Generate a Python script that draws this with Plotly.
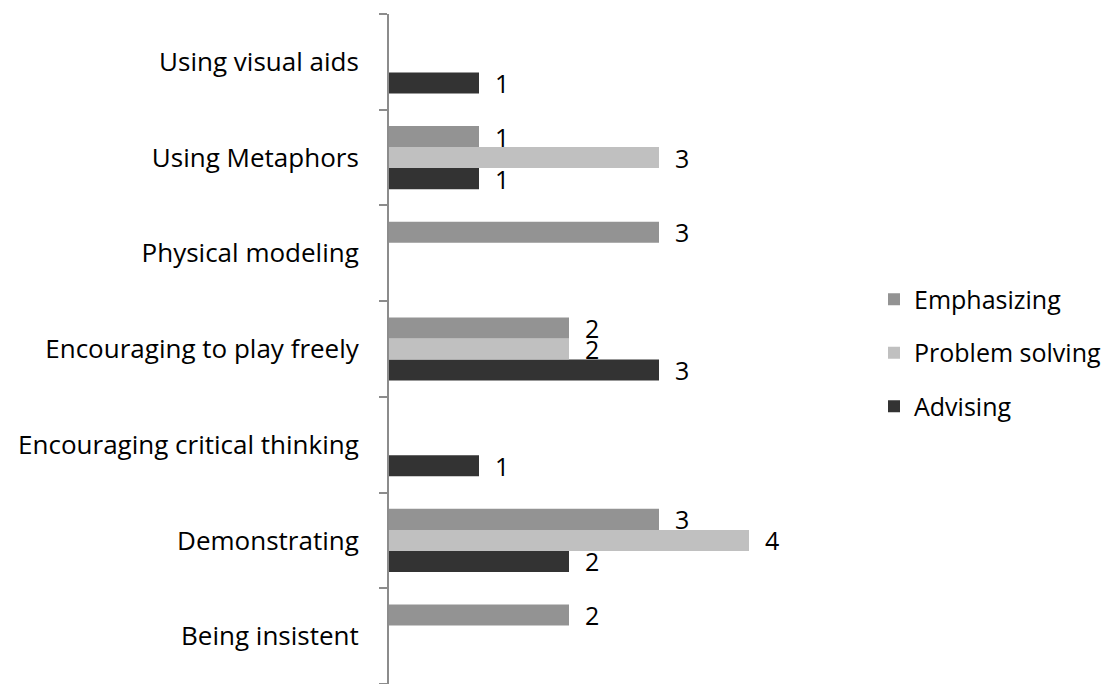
import plotly.graph_objects as go

categories = ["Being insistent", "Demonstrating", "Encouraging critical thinking",
              "Encouraging to play freely", "Physical modeling", "Using Metaphors",
              "Using visual aids"]
emphasizing = [2, 3, None, 2, 3, 1, None]
problem_solving = [None, 4, None, 2, None, 3, None]
advising = [None, 2, 1, 3, None, 1, 1]

FONT = "Open Sans"
FS = 26

series = [
    ("Advising", advising, "#333333", 3),
    ("Problem solving", problem_solving, "#c0c0c0", 2),
    ("Emphasizing", emphasizing, "#939393", 1),
]

fig = go.Figure()
for name, vals, color, rank in series:
    fig.add_trace(go.Bar(
        y=categories, x=vals, name=name, orientation="h",
        marker=dict(color=color, line=dict(width=0)),
        text=[("" if v is None else f"  {v}") for v in vals],
        textposition="outside", cliponaxis=False, constraintext="none",
        textfont=dict(family=FONT, size=FS - 1, color="#000000"),
        legendgroup=name, legendrank=rank,
    ))

fig.update_layout(
    width=1110, height=684,
    margin=dict(l=389, r=271, t=14, b=0),
    paper_bgcolor="white", plot_bgcolor="white",
    barmode="group", bargap=0.34, bargroupgap=0,
    font=dict(family=FONT, size=FS, color="#000000"),
    showlegend=True,
    legend=dict(x=874 / 1110, xref="container", xanchor="left",
                y=0.484, yref="container", yanchor="middle",
                font=dict(family=FONT, size=FS - 1, color="#000000"),
                tracegroupgap=18, itemwidth=30,
                bgcolor="rgba(0,0,0,0)"),
    xaxis=dict(range=[0, 5], showgrid=False, zeroline=False, showline=False,
               showticklabels=False, ticks=""),
    yaxis=dict(categoryorder="array", categoryarray=categories,
               showgrid=False, zeroline=False, showline=True,
               linecolor="#8c8c8c", linewidth=2,
               ticks="outside", tickson="boundaries", ticklen=8,
               tickcolor="#8c8c8c", tickwidth=2,
               ticklabelstandoff=23,
               tickfont=dict(family=FONT, size=FS, color="#000000")),
)

fig.write_html("out.html")
